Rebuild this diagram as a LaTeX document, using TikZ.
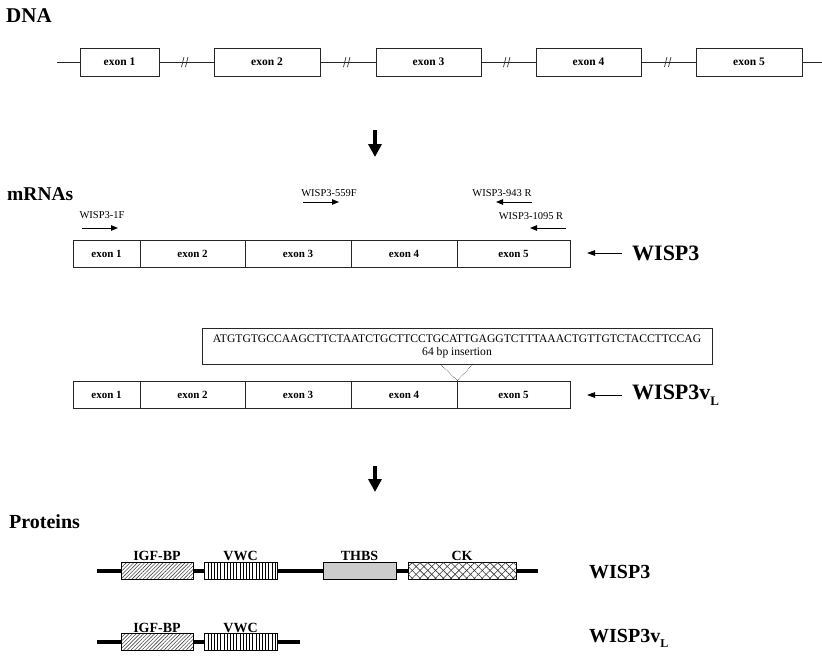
\documentclass[tikz,border=0pt]{standalone}
\usepackage{fontspec}
\setmainfont{Liberation Serif}
\usetikzlibrary{arrows.meta,patterns.meta}
\begin{document}
\begin{tikzpicture}[x=1pt,y=-1pt,
  dexon/.style={draw=black!85, line width=0.8pt, minimum width=#1, minimum height=28pt, inner sep=0pt, font=\bfseries\fontsize{11.5}{13}\selectfont},
  mexon/.style={draw=black!85, line width=0.8pt, minimum width=#1, minimum height=27pt, inner sep=0pt, font=\bfseries\fontsize{11}{13}\selectfont},
  title/.style={anchor=west, inner sep=0pt, font=\bfseries\fontsize{#1}{#1}\selectfont},
  primerlab/.style={inner sep=0pt, font=\fontsize{10.5}{12}\selectfont},
  primer/.style={line width=0.9pt, -{Triangle[length=7pt,width=5.5pt]}},
  bigarrow/.style={line width=4pt, -{Triangle[length=13pt,width=13pt]}},
  labarrow/.style={line width=1pt, -{Triangle[length=8pt,width=5.5pt]}},
  backbone/.style={line width=3.8pt},
  dom/.style={draw=black, line width=0.8pt, minimum width=#1, minimum height=17pt, inner sep=0pt, preaction={fill=white}},
  dlabel/.style={font=\bfseries\fontsize{14}{14}\selectfont, inner sep=0.5pt},
  igf/.style={pattern={Lines[angle=45,distance=2.6pt,line width=0.6pt]}, pattern color=black!70},
  vwc/.style={pattern={Lines[angle=90,distance=3.2pt,line width=0.9pt]}, pattern color=black},
  thbs/.style={fill=black!20},
  ck/.style={pattern={Lines[angle=45,distance=5.5pt,line width=0.6pt]}, pattern color=black!80,
             postaction={pattern={Lines[angle=-45,distance=5.5pt,line width=0.6pt]}, pattern color=black!80}},
  brk/.style={line width=0.7pt, black!85},
  subL/.style={}
]
\useasboundingbox (0,0) rectangle (822,656);

% ---------- DNA ----------
\node[title=21] (dnalab) at (6,16) {DNA};
\coordinate (dstart) at (57,62);
\coordinate (dend) at (822,62);
\node[dexon=79pt]  (d1) at (119.5,62) {exon 1};
\node[dexon=106pt] (d2) at (267,62)   {exon 2};
\node[dexon=105pt] (d3) at (428.5,62) {exon 3};
\node[dexon=105pt] (d4) at (588.5,62) {exon 4};
\node[dexon=106pt] (d5) at (749,62)   {exon 5};
\draw[brk] (dstart) -- (d1.west);
\draw[brk] (d1.east) -- (d2.west);
\draw[brk] (d2.east) -- (d3.west);
\draw[brk] (d3.east) -- (d4.west);
\draw[brk] (d4.east) -- (d5.west);
\draw[brk] (d5.east) -- (dend);
\foreach \bx in {185,347,507,668}{
  \draw[brk] (\bx-3.5,67) -- (\bx-1,57);
  \draw[brk] (\bx+0.5,67) -- (\bx+3,57);
}

\coordinate (a1s) at (375,130);
\coordinate (a1e) at (375,157);
\draw[bigarrow] (a1s) -- (a1e);

% ---------- mRNAs ----------
\node[title=19.5] (mlab) at (7,194) {mRNAs};

\node[primerlab] (p1) at (102,215) {WISP3-1F};
\coordinate (p1s) at (82,228);  \coordinate (p1e) at (118,228);
\draw[primer] (p1s) -- (p1e);
\node[primerlab] (p2) at (329,193) {WISP3-559F};
\coordinate (p2s) at (303,202); \coordinate (p2e) at (339,202);
\draw[primer] (p2s) -- (p2e);
\node[primerlab] (p3) at (502,193) {WISP3-943 R};
\coordinate (p3s) at (532,202); \coordinate (p3e) at (496,202);
\draw[primer] (p3s) -- (p3e);
\node[primerlab] (p4) at (531,216) {WISP3-1095 R};
\coordinate (p4s) at (566,228); \coordinate (p4e) at (530,228);
\draw[primer] (p4s) -- (p4e);

\node[mexon=67pt]  (m1) at (106.5,253.5) {exon 1};
\node[mexon=105pt] (m2) at (192.5,253.5) {exon 2};
\node[mexon=106pt] (m3) at (298,253.5)   {exon 3};
\node[mexon=106pt] (m4) at (404,253.5)   {exon 4};
\node[mexon=113pt] (m5) at (513.5,253.5) {exon 5};

\node[title=22] (w3) at (632,253) {WISP3};
\coordinate (w3as) at (622,253); \coordinate (w3ae) at (587,253);
\draw[labarrow] (w3as) -- (w3ae);

\node[draw=black!85, line width=0.8pt, minimum width=510pt, minimum height=36pt, inner sep=0pt, align=center,
      font=\fontsize{11.6}{13}\selectfont] (ins) at (457,346)
  {ATGTGTGCCAAGCTTCTAATCTGCTTCCTGCATTGAGGTCTTTAAACTGTTGTCTACCTTCCAG\\64 bp insertion};

\node[mexon=67pt]  (n1) at (106.5,394.5) {exon 1};
\node[mexon=105pt] (n2) at (192.5,394.5) {exon 2};
\node[mexon=106pt] (n3) at (298,394.5)   {exon 3};
\node[mexon=106pt] (n4) at (404,394.5)   {exon 4};
\node[mexon=113pt] (n5) at (513.5,394.5) {exon 5};

\coordinate (dl) at (440,364); \coordinate (dr) at (473,364);
\draw[densely dotted, line width=0.6pt, black!85] (dl) -- (n4.north east) -- (dr);

\node[title=22] (w3v) at (632,395) {WISP3v\raisebox{-0.25em}{\fontsize{13}{13}\selectfont L}};
\coordinate (w3vs) at (622,395); \coordinate (w3ve) at (587,395);
\draw[labarrow] (w3vs) -- (w3ve);

\coordinate (a2s) at (375,466);
\coordinate (a2e) at (375,492);
\draw[bigarrow] (a2s) -- (a2e);

% ---------- Proteins ----------
\node[title=20] (plab) at (9,522) {Proteins};

\coordinate (b1s) at (97,571); \coordinate (b1e) at (538,571);
\draw[backbone] (b1s) -- (b1e);
\node[dom=72pt, igf, label={[dlabel]above:IGF-BP}] (i1) at (157,570.5) {};
\node[dom=73pt, vwc, label={[dlabel]above:VWC}] (v1) at (240.5,570.5) {};
\node[dom=73pt, thbs, label={[dlabel]above:THBS}] (t1) at (359.5,570.5) {};
\node[dom=108pt, ck, label={[dlabel]above:CK}] (c1) at (462,570.5) {};
\node[title=20] (pw3) at (589,572) {WISP3};

\coordinate (b2s) at (97,642); \coordinate (b2e) at (300,642);
\draw[backbone] (b2s) -- (b2e);
\node[dom=72pt, igf, label={[dlabel]above:IGF-BP}] (i2) at (157,642) {};
\node[dom=73pt, vwc, label={[dlabel]above:VWC}] (v2) at (240.5,642) {};
\node[title=20] (pw3v) at (589,638) {WISP3v\raisebox{-0.25em}{\fontsize{12}{12}\selectfont L}};
\end{tikzpicture}
\end{document}
